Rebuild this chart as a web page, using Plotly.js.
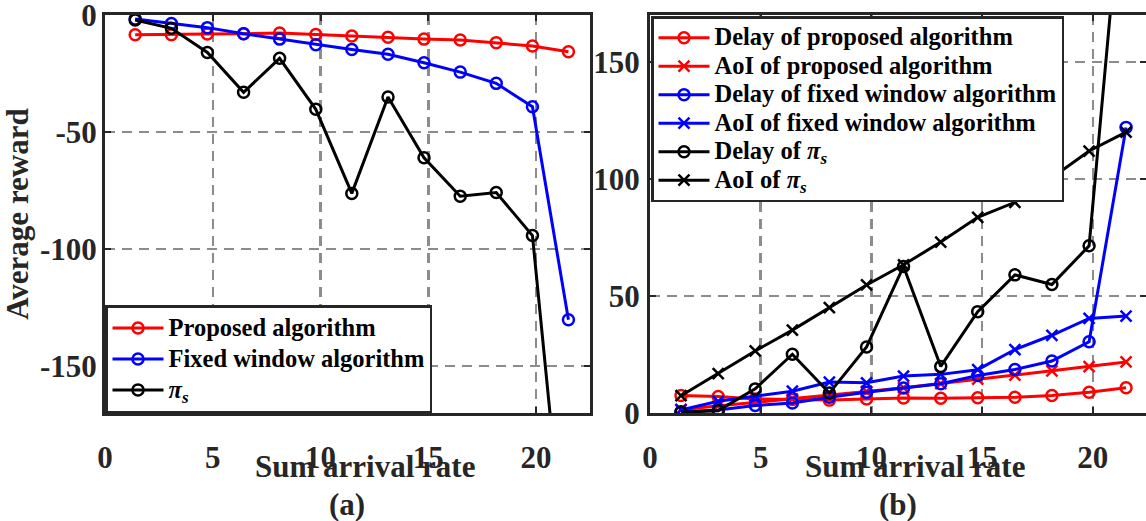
<!DOCTYPE html>
<html>
<head>
<meta charset="utf-8">
<script src="https://cdn.plot.ly/plotly-3.0.1.min.js"></script>
<style>html,body{margin:0;padding:0;background:#fff;}</style>
</head>
<body>
<div id="chart" style="width:1146px;height:521px;"></div>
<script>
// ---- data ----
const sumArrivalRate = [1.4, 3.08, 4.75, 6.43, 8.1, 9.78, 11.45, 13.13, 14.8, 16.48, 18.15, 19.83, 21.5];

// (a) average reward
const rewardProposed = [-8.4, -8.4, -8.1, -8.0, -7.7, -8.3, -9.0, -9.5, -10.3, -10.7, -11.8, -13.2, -15.7];
const rewardFixed    = [-1.7, -3.6, -5.4, -8.0, -10.3, -12.7, -14.7, -16.8, -20.4, -24.4, -29.2, -39.2, -130.2];
const rewardPis      = [-2.1, -5.7, -16.0, -33.0, -18.5, -40.3, -76.2, -35.0, -61.0, -77.4, -75.8, -94.2, -250];

// (b) delay and AoI
const delayProposed = [7.5, 7.0, 6.0, 5.8, 5.5, 6.0, 6.4, 6.3, 6.5, 6.7, 7.5, 8.9, 10.8];
const aoiProposed   = [1.5, 3.0, 4.5, 6.0, 7.5, 9.2, 10.8, 12.5, 14.5, 16.2, 18.0, 19.8, 21.8];
const delayFixed    = [0.5, 1.3, 3.2, 4.3, 6.7, 8.9, 10.7, 12.5, 16.0, 18.6, 22.2, 30.4, 122];
const aoiFixed      = [1.3, 5.0, 7.2, 9.3, 13.2, 12.9, 15.8, 16.5, 18.5, 27.1, 33.2, 40.4, 41.4];
const delayPis      = [0.3, 1.0, 10.3, 25.1, 8.5, 28.2, 62.6, 19.9, 43.3, 59.0, 54.9, 71.4, 245];
const aoiPis        = [7.4, 16.8, 26.5, 35.4, 45.0, 54.7, 63.3, 73.0, 83.6, 90.0, 100.5, 111.9, 120.0];

const namesA = ['Proposed algorithm', 'Fixed window algorithm', '<i>π<sub>s</sub></i>'];
const namesB = ['Delay of proposed algorithm', 'AoI of proposed algorithm',
                'Delay of fixed window algorithm', 'AoI of fixed window algorithm',
                'Delay of <i>π<sub>s</sub></i>', 'AoI of <i>π<sub>s</sub></i>'];
const xTicks = [0, 5, 10, 15, 20];
const yTicksA = [0, -50, -100, -150];
const yTickTextA = ['0', '-50', '-100', '-150'];
const yTicksB = [0, 50, 100, 150];
const yTickTextB = ['0', '50', '100', '150'];
const labels = {xTitle: 'Sum arrival rate', yTitleA: 'Average reward', panelA: '(a)', panelB: '(b)'};

// ---- styling ----
const FONT = 'Liberation Serif, Times New Roman, serif';
const TXT = '#262626';
const RED = '#ff0000', BLUE = '#0000ff', BLACK = '#000000';
const LEG_TEXT_PX = 24.5;

function legText(s) { return '<span style="font-size:' + LEG_TEXT_PX + 'px">' + s + '</span>'; }

function tr(y, name, color, sym, xa, ya, leg) {
  return {
    x: sumArrivalRate, y: y, name: legText(name), type: 'scatter', mode: 'lines+markers',
    xaxis: xa, yaxis: ya, legend: leg,
    line: {color: color, width: 3},
    marker: {symbol: sym, size: 11, color: color, line: {color: color, width: 2.5}}
  };
}

const data = [
  tr(rewardProposed, namesA[0], RED, 'circle-open', 'x', 'y', 'legend'),
  tr(rewardFixed, namesA[1], BLUE, 'circle-open', 'x', 'y', 'legend'),
  tr(rewardPis, namesA[2], BLACK, 'circle-open', 'x', 'y', 'legend'),
  tr(delayProposed, namesB[0], RED, 'circle-open', 'x2', 'y2', 'legend2'),
  tr(aoiProposed, namesB[1], RED, 'x-thin-open', 'x2', 'y2', 'legend2'),
  tr(delayFixed, namesB[2], BLUE, 'circle-open', 'x2', 'y2', 'legend2'),
  tr(aoiFixed, namesB[3], BLUE, 'x-thin-open', 'x2', 'y2', 'legend2'),
  tr(delayPis, namesB[4], BLACK, 'circle-open', 'x2', 'y2', 'legend2'),
  tr(aoiPis, namesB[5], BLACK, 'x-thin-open', 'x2', 'y2', 'legend2')
];

const tickFont = {family: FONT, size: 31, color: TXT, weight: 'bold'};
function axis(extra) {
  return Object.assign({
    showline: true, linecolor: TXT, linewidth: 3, mirror: 'ticks',
    ticks: 'inside', ticklen: 6, tickwidth: 2, tickcolor: TXT,
    showgrid: true, gridcolor: '#8c8c8c', gridwidth: 2.5, griddash: '10px,7px',
    zeroline: false, tickfont: tickFont, fixedrange: true, ticklabeloverflow: 'allow'
  }, extra);
}

const W = 1146, H = 521, T = 15, B = 108;
function py(pix) { return (H - B - pix) / (H - T - B); }

const legendBase = {
  bgcolor: '#ffffff', bordercolor: TXT, borderwidth: 2.5,
  itemwidth: 51, tracegroupgap: 0, xref: 'paper', yref: 'paper'
};

const layout = {
  width: W, height: H,
  margin: {l: 0, r: 0, t: T, b: B, autoexpand: false},
  paper_bgcolor: '#ffffff', plot_bgcolor: '#ffffff',
  font: {family: FONT, color: TXT, size: 31},
  showlegend: true,
  xaxis: axis({domain: [105 / W, 590 / W], range: [0, 22.5], tickvals: xTicks, ticklabelstandoff: 15, anchor: 'y'}),
  yaxis: axis({range: [-170, 0], tickvals: yTicksA, ticktext: yTickTextA, ticklabelstandoff: -1, anchor: 'x',
               title: {text: labels.yTitleA, font: {family: FONT, size: 31, color: TXT, weight: 'bold'}, standoff: 16}}),
  xaxis2: axis({domain: [650 / W, 1], range: [0, 22.4], tickvals: xTicks, ticklabelstandoff: 15, anchor: 'y2'}),
  yaxis2: axis({range: [0, 170], tickvals: yTicksB, ticktext: yTickTextB, ticklabelstandoff: 1, anchor: 'x2'}),
  legend: Object.assign({}, legendBase, {
    x: 105 / W, xanchor: 'left', y: 0, yanchor: 'bottom',
    font: {family: FONT, size: 21.5, color: '#000000', weight: 'bold'}
  }),
  legend2: Object.assign({}, legendBase, {
    x: 651 / W, xanchor: 'left', y: py(16), yanchor: 'top',
    font: {family: FONT, size: 19.6, color: '#000000', weight: 'bold'}
  }),
  annotations: [
    {text: labels.xTitle, xref: 'paper', yref: 'paper', x: 365 / W, y: py(466), xanchor: 'center', yanchor: 'middle',
     showarrow: false, font: {family: FONT, size: 31, color: TXT, weight: 'bold'}},
    {text: labels.xTitle, xref: 'paper', yref: 'paper', x: 915 / W, y: py(466), xanchor: 'center', yanchor: 'middle',
     showarrow: false, font: {family: FONT, size: 31, color: TXT, weight: 'bold'}},
    {text: labels.panelA, xref: 'paper', yref: 'paper', x: 347 / W, y: py(505), xanchor: 'center', yanchor: 'middle',
     showarrow: false, font: {family: FONT, size: 31, color: TXT, weight: 'bold'}},
    {text: labels.panelB, xref: 'paper', yref: 'paper', x: 898 / W, y: py(505), xanchor: 'center', yanchor: 'middle',
     showarrow: false, font: {family: FONT, size: 31, color: TXT, weight: 'bold'}}
  ]
};

Plotly.newPlot('chart', data, layout, {displayModeBar: false, staticPlot: true});
</script>
</body>
</html>
